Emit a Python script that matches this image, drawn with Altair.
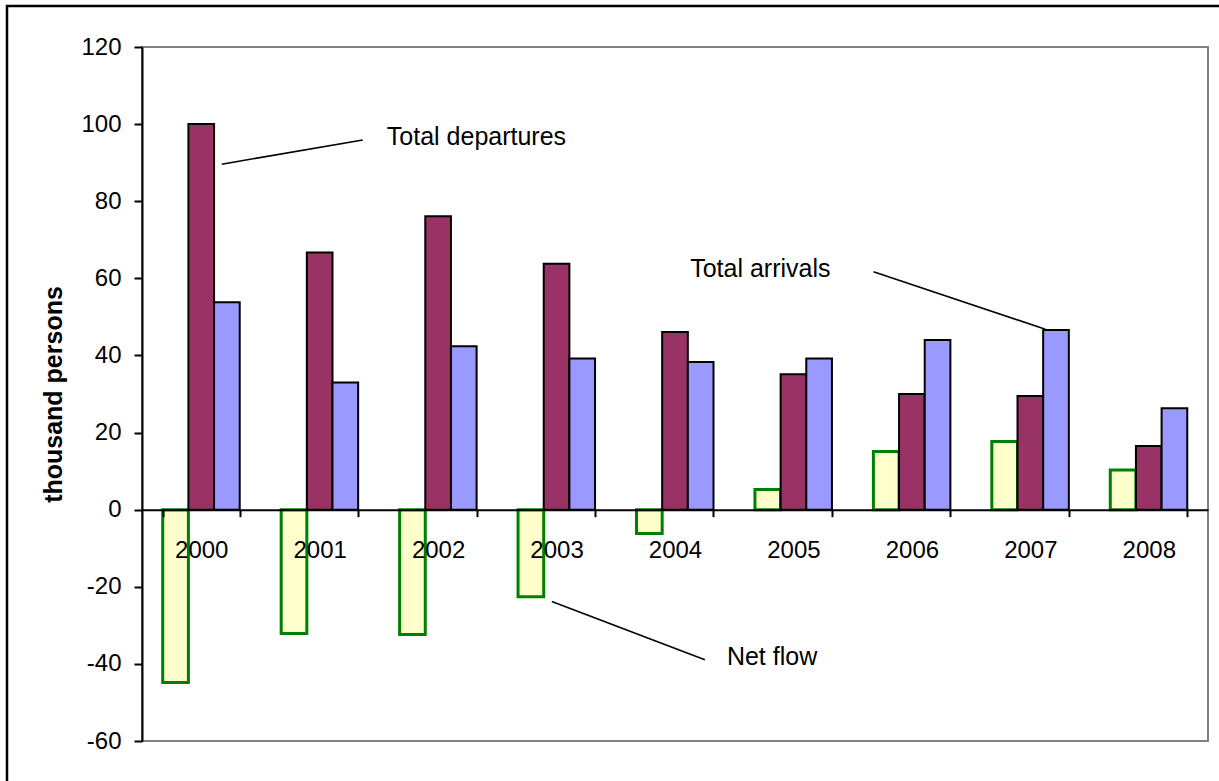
import altair as alt
import pandas as pd

# ---- data ----
years = ["2000", "2001", "2002", "2003", "2004", "2005", "2006", "2007", "2008"]
departures = [100.0, 66.7, 76.1, 63.8, 46.1, 35.1, 30.0, 29.5, 16.5]
arrivals = [53.8, 33.0, 42.4, 39.2, 38.3, 39.2, 44.0, 46.6, 26.3]
net_flow = [-44.8, -32.1, -32.4, -22.6, -6.2, 5.2, 15.1, 17.7, 10.3]

series_names = ["Net flow", "Total departures", "Total arrivals"]
series_fill = ["#FFFFCC", "#993366", "#9999FF"]

y_ticks = [-60, -40, -20, 0, 20, 40, 60, 80, 100, 120]

# annotation labels and leader lines (x in category steps from left edge, y in data units)
ann_labels = ["Total departures", "Total arrivals", "Net flow"]
ann_x = [2.067, 4.628, 4.938]
ann_y = [96.6, 62.4, -38.2]
line_x1 = [0.673, 6.176, 3.460]
line_y1 = [89.6, 61.7, -23.8]
line_x2 = [1.864, 7.627, 4.752]
line_y2 = [95.9, 46.8, -38.9]

FONT = "Liberation Sans"
W, H = 1066, 694

rows = []
for i, yr in enumerate(years):
    rows.append({"year": yr, "series": "Net flow", "value": net_flow[i]})
    rows.append({"year": yr, "series": "Total departures", "value": departures[i]})
    rows.append({"year": yr, "series": "Total arrivals", "value": arrivals[i]})
df = pd.DataFrame(rows)

ann_df = pd.DataFrame({"label": ann_labels, "x": ann_x, "y": ann_y})
line_df = pd.DataFrame({"x1": line_x1, "y1": line_y1, "x2": line_x2, "y2": line_y2})

x_enc = alt.X(
    "year:N",
    sort=years,
    scale=alt.Scale(paddingInner=0.35, paddingOuter=0.175),
    axis=alt.Axis(
        title=None,
        orient="bottom",
        offset=-(H - 120 * H / 180),
        labelAngle=0,
        labelFontSize=24,
        labelFont=FONT,
        labelColor="black",
        labelPadding=22,
        labelBaseline="top",
        tickBand="extent",
        tickSize=7,
        tickWidth=2,
        tickColor="black",
        domainColor="black",
        domainWidth=2,
        grid=False,
        zindex=1,
    ),
)
xoff_enc = alt.XOffset(
    "series:N",
    sort=series_names,
    scale=alt.Scale(domain=series_names, paddingInner=0, paddingOuter=0),
)
y_enc = alt.Y(
    "value:Q",
    scale=alt.Scale(domain=[-60, 120], nice=False, zero=False),
    axis=alt.Axis(
        values=y_ticks,
        labelExpr="'' + datum.value",
        title="thousand persons",
        titleFont=FONT,
        titleFontSize=25,
        titleFontWeight="bold",
        titleColor="black",
        titleAngle=270,
        titleAlign="center",
        titleBaseline="middle",
        titleX=-89,
        titleY=H / 2,
        labelFontSize=24,
        labelFont=FONT,
        labelColor="black",
        labelPadding=13,
        tickSize=8,
        tickWidth=2,
        tickColor="black",
        domainColor="black",
        domainWidth=2,
        grid=False,
    ),
)
color_enc = alt.Color(
    "series:N", scale=alt.Scale(domain=series_names, range=series_fill), legend=None
)

net_bars = (
    alt.Chart(df)
    .transform_filter(alt.datum.series == "Net flow")
    .mark_bar(stroke="#008000", strokeWidth=3, fillOpacity=1)
    .encode(x=x_enc, xOffset=xoff_enc, y=y_enc, color=color_enc)
)
other_bars = (
    alt.Chart(df)
    .transform_filter(alt.datum.series != "Net flow")
    .mark_bar(stroke="black", strokeWidth=2, fillOpacity=1)
    .encode(x=x_enc, xOffset=xoff_enc, y=y_enc, color=color_enc)
)
bars = alt.layer(net_bars, other_bars)

ax = alt.Scale(domain=[0, 9], nice=False, zero=False)
ay = alt.Scale(domain=[-60, 120], nice=False, zero=False)
leaders = (
    alt.Chart(line_df)
    .mark_rule(color="black", strokeWidth=1.6)
    .encode(
        x=alt.X("x1:Q", scale=ax, axis=None),
        x2="x2:Q",
        y=alt.Y("y1:Q", scale=ay, axis=None),
        y2="y2:Q",
    )
)
labels = (
    alt.Chart(ann_df)
    .mark_text(align="left", baseline="middle", fontSize=25, font=FONT, color="black")
    .encode(
        x=alt.X("x:Q", scale=ax, axis=None),
        y=alt.Y("y:Q", scale=ay, axis=None),
        text="label:N",
    )
)
annotations = alt.layer(leaders, labels)

# outer chart frame: only the left and top edges fall inside the picture
frame_top = (
    alt.Chart(alt.Data(values=[{"k": 1}]))
    .mark_rule(color="black", strokeWidth=2.5)
    .encode(x=alt.value(-136), x2=alt.value(W + 11), y=alt.value(-41))
)
frame_left = (
    alt.Chart(alt.Data(values=[{"k": 1}]))
    .mark_rule(color="black", strokeWidth=2.5)
    .encode(x=alt.value(-135), y=alt.value(-42), y2=alt.value(H + 40))
)

chart = (
    alt.layer(frame_top, frame_left, bars, annotations)
    .resolve_scale(x="independent", y="independent")
    .properties(
        width=W,
        height=H,
        autosize=alt.AutoSizeParams(type="none"),
        padding={"left": 142, "top": 47, "right": 11, "bottom": 40},
        background="white",
    )
    .configure(font=FONT)
    .configure_view(stroke="#808080", strokeWidth=2)
)

chart.save("out.html", embed_options={"renderer": "svg", "actions": False})
